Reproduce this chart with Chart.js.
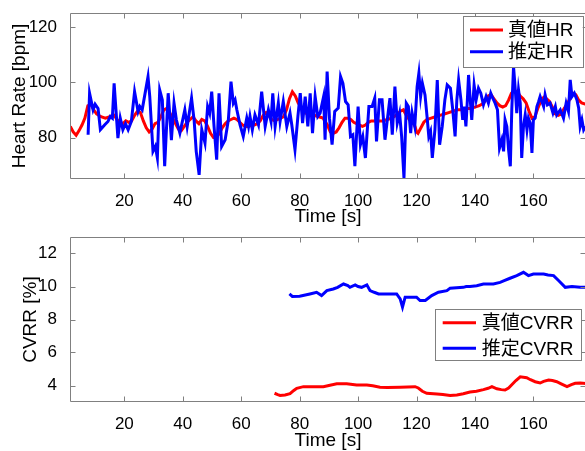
<!DOCTYPE html>
<html><head><meta charset="utf-8">
<script src="https://cdn.jsdelivr.net/npm/chart.js@4"></script>
<style>
html,body{margin:0;padding:0;background:#fff;overflow:hidden;width:585px;height:451px;position:relative;}
#c1{position:absolute;left:0;top:0;}
#c2{position:absolute;left:0;top:225px;}
</style></head><body>
<canvas id="c1" width="600" height="240"></canvas>
<canvas id="c2" width="600" height="240"></canvas>
<script>
// ---------- data ----------
const hrTicksX = [20,40,60,80,100,120,140,160];
const hrTicksY = [80,100,120];
const cvTicksY = [4,6,8,10,12];

const hrTrueT = [1.5,2.5,3.5,4.5,5.5,6.5,7.5,8.5,9.5,10.5,12,13.5,15,16.5,17.5,18.5,19.5,20.5,21.5,22.5,23.5,24.5,25.5,26.5,27.5,28.5,29.5,30.5,31.5,32.5,33.5,34.5,35.5,36.5,37.5,38.5,39.5,40.5,41.5,42.5,43.5,44.5,45.5,46.5,47.5,48.5,49.5,50.5,51.5,52.5,53.5,54.5,55.5,56.5,57.5,58.5,59.5,60.5,61.5,62.5,63.5,64.5,65.5,66.5,67.5,68.5,69.5,70.5,71.5,72.5,73.5,74.5,75.5,76.5,77.5,78.5,79.5,80.5,81.5,82.5,83.5,85,86.5,88,89.5,90.5,91.5,92.5,93.5,94.5,95.5,96.5,97.5,98.5,99.5,100.5,101.5,102.5,103.5,104.5,105.5,107,108.5,110,111.5,113,114.5,115.5,116.5,117.5,118.5,119.5,120,120.5,121.5,122.5,123.5,125,126.5,128,129.5,131,132.5,134,135.5,137,138.5,140,141.5,143,144.5,145.5,146.5,147.5,148.5,149.5,150.5,151.5,152.5,153.5,154.5,155.5,156.5,157.5,158.5,159.5,160.5,161.5,162.5,163.5,164.5,165.5,166.5,167.5,168.5,169.5,170.5,171.5,172.5,173.5,174.5,175.5,176.5,178];
const hrTrueV = [84,82,80.8,82.5,84.5,87,91.5,92,90,88.5,87.5,87,87.5,88,86.5,85.5,85,86,85.5,86,88,89.5,89,86,83.5,82,83,85,85.5,87.5,90,90.5,89,87,85,83,82.5,84,85.5,86.5,87.5,86,85,86.5,86,84,81.5,80,80,81.5,83.5,85,86,86.5,87,86.5,85.5,84.5,84,84,84.5,84.5,85,86,88,89,88,86.5,86,86.5,87,87.5,90,94,96.5,95,92.5,91,89.5,88.5,88,88,87.5,87,84.5,82,81.5,82,83.5,85.5,87,87,86.5,85.5,85,84.5,84,84.5,85.5,86,86,86,86,86.5,87,88,89.5,90,88,86.5,86,84,82,81.5,83.5,85.5,86.5,87,87.5,88,88.5,89,89.5,90,90,90.5,90.5,91,91.5,92.5,95,95.5,94,92.5,91.5,91,91.5,93.5,96,97,96.5,95,94,92.5,89.5,87,87.5,90.5,93,94.5,94,93,91,88.5,88,88.5,90.5,92,94,96,95.5,93.5,92.5,92];

const hrEstT = [7.6,8.1,9.3,10,11,11.8,13.3,14.4,15.2,15.9,16.5,17.8,18.6,19.5,20.4,21.3,22.4,23.5,24.7,25.3,26.1,28.1,28.7,29.8,30.6,31.3,32.1,33,33.8,35,35.5,36.1,37,37.8,39,39.5,40.7,41.5,43,43.9,44.6,45.6,46.5,47.6,48.5,49.2,49.9,50.7,51.6,52.4,53.3,54.5,55.6,56.5,57.3,57.9,58.5,59.6,60.7,61.9,62.5,63,63.8,64.7,65.9,67,68.2,69.3,70.2,70.8,71.6,72.7,73.3,74.4,75.6,76.7,77.3,78.4,79.4,80.2,81,81.9,82.8,83.6,84.4,85.3,86.2,87,88.2,88.7,89.4,90.2,91.1,92,93.2,94,94.8,95.7,96.6,97.4,98.2,98.9,100,100.8,101.6,102.5,103.7,104.8,105.7,106.3,107.3,108.2,109.2,110,110.9,111.7,112.6,113.4,114.2,114.9,115.7,116.5,117.2,118,118.5,119.4,120.2,120.8,121.4,122,122.9,123.7,124.2,124.8,125.4,126.3,127.1,127.9,128.8,129.7,130.5,131.6,132.4,133.2,133.8,134.4,135.2,135.8,136.3,136.9,137.4,137.8,138.3,138.9,139.7,140.4,141.2,142,142.9,143.8,144.6,145.4,146.1,146.9,147.7,148.4,149.2,149.8,150.3,150.9,151.5,152.1,152.6,153.2,153.8,154.3,154.9,155.5,156,156.6,157.2,157.8,158.3,158.9,159.5,160,160.6,161.2,161.8,162.3,163.5,164,164.8,165.7,166.7,167.5,168,169.2,170.3,171.2,172,172.6,173.2,174,174.9,175.5,176,176.6,177.2,177.8];
const hrEstV = [81,96,90,92,90.5,82.8,84.6,85.8,87.6,87,99.6,79.8,87,82.8,85,82.8,85.8,96.6,89.4,91.2,90,102,94.8,75,76.8,72.6,97.2,93.6,69.6,96,88.8,79,92.4,86.4,81.6,84,90,84,94.2,86,75,66.5,82.8,78,91.2,88.8,96.6,84,72,96,76.8,79.2,86.4,100.2,92.4,93.6,90,84.6,80.4,87,84,87.6,82.8,88.2,84.6,96.6,84,90,85.8,96,84,92.4,85.8,93,84,88.8,84.6,75.6,87.6,96,85.2,94.8,84,96,81.6,94.8,87.6,88.8,94.8,79.2,103.8,87,77.4,89.4,90.6,102,99.6,93,91.8,80.4,81,69.6,91.2,77.4,80.4,72.6,91.2,91.2,94.2,78.6,93.6,93.6,79.2,86.4,94.2,81,98.4,85.2,88.8,80.4,65.4,92.4,91.2,81.6,88.8,84,98.4,103.2,94.8,99.6,95.4,86.4,80.4,82.2,72.6,82.8,100.8,77.4,84,93.6,99,97.8,90,80.4,93.6,100.8,93.6,86.4,91.2,84,93.6,102.6,94.8,86.4,99,93.6,97.8,96,91.8,94.8,92.4,96,94.2,92.4,90,76.2,79.2,75,86.4,84,75.6,69.6,90,105.6,97.2,88.8,97.2,92.4,72.6,84,88.2,82.8,87,85.2,74.4,86.4,87,91.2,93,94.8,91.2,95.4,91.8,92.4,88.8,91.2,88.2,90,87,92.4,89.4,100.8,94.8,96,93.6,90.6,84,86.4,82.8,84];

const cvTrueT = [71.4,72.5,73.3,75,76.7,78,79,81.3,85,88.1,90,92.7,96.1,99.5,103,105,107.5,110,114.4,119.5,120.6,122,123.5,127,129,131.5,133.8,136,138.3,140.5,142.9,144.5,145.8,147.5,149,150.3,151.5,152.6,154,155.5,157.7,159,160.6,162.3,163.5,165.2,166.5,168,169.5,171.5,173,174.3,176,178];
const cvTrueV = [3.53,3.45,3.4,3.42,3.5,3.7,3.83,3.93,3.93,3.93,4.0,4.1,4.1,4.03,4.03,3.98,3.9,3.88,3.9,3.93,3.85,3.65,3.53,3.49,3.45,3.39,3.43,3.5,3.6,3.65,3.75,3.83,3.93,3.8,3.75,3.73,3.85,4.05,4.3,4.53,4.47,4.35,4.23,4.15,4.25,4.33,4.3,4.23,4.1,3.93,4.05,4.13,4.15,4.12];

const cvEstT = [76.5,77.5,80,83.5,85.8,87.5,89.3,91.5,93,95,96.5,97.2,99,100,101.2,103,104.1,105.5,107,111,113.2,114.4,115.2,116.1,117.8,120,121.2,123,125.2,127.5,130.4,131.5,136,137,138.3,140.6,142.9,146.3,148.6,150,152,154.3,156.6,158.3,160,163.5,165,166.9,168.6,170.9,173.2,176,178];
const cvEstV = [9.55,9.4,9.41,9.55,9.65,9.45,9.75,9.85,9.95,10.15,10.05,9.95,10.1,10.0,9.95,10.1,9.75,9.65,9.55,9.55,9.55,9.25,8.75,9.35,9.35,9.35,9.15,9.15,9.45,9.65,9.75,9.9,9.95,10.0,10.0,10.05,10.15,10.15,10.25,10.35,10.5,10.66,10.86,10.66,10.76,10.76,10.7,10.66,10.36,9.95,10.0,9.95,9.95];

const labelsHR = ['真値HR','推定HR'];
const labelsCV = ['真値CVRR','推定CVRR'];

// ---------- helpers ----------
const FONT = '"Liberation Sans", Arial, "Noto Sans CJK JP", sans-serif';
const pts = (T, V) => T.map((t, i) => ({x: t, y: V[i]}));

const axesBox = {
  id: 'axesBox',
  afterDatasetsDraw(chart) {
    const {ctx, chartArea: a, scales: {x, y}} = chart;
    ctx.save();
    ctx.strokeStyle = '#808080';
    ctx.lineWidth = 1;
    const L = a.left + 0.5, R = a.right - 0.5, T = a.top + 0.5, B = a.bottom - 0.5;
    ctx.beginPath();
    ctx.rect(L, T, R - L, B - T);
    const tl = 5;
    x.ticks.forEach(tk => {
      const px = Math.round(x.getPixelForValue(tk.value)) + 0.5;
      ctx.moveTo(px, B); ctx.lineTo(px, B - tl);
      ctx.moveTo(px, T); ctx.lineTo(px, T + tl);
    });
    y.ticks.forEach(tk => {
      const py = Math.round(y.getPixelForValue(tk.value)) + 0.5;
      ctx.moveTo(L, py); ctx.lineTo(L + tl, py);
      ctx.moveTo(R, py); ctx.lineTo(R - tl, py);
    });
    ctx.stroke();
    ctx.restore();
  }
};

const legendBox = {
  id: 'legendBox',
  afterDraw(chart, args, o) {
    const {ctx, chartArea: a} = chart;
    const bx = a.right - o.right - o.w, by = a.top + o.top;
    ctx.save();
    ctx.fillStyle = '#fff';
    ctx.fillRect(bx, by, o.w, o.h);
    ctx.strokeStyle = '#808080';
    ctx.lineWidth = 1;
    ctx.strokeRect(Math.round(bx) + 0.5, Math.round(by) + 0.5, Math.round(o.w), Math.round(o.h));
    ctx.font = '19px ' + FONT;
    ctx.textBaseline = 'middle';
    ctx.textAlign = 'left';
    chart.data.datasets.forEach((ds, i) => {
      const ry = by + o.rows[i];
      ctx.strokeStyle = ds.borderColor;
      ctx.lineWidth = 3;
      ctx.beginPath();
      ctx.moveTo(bx + o.lx0, ry); ctx.lineTo(bx + o.lx1, ry);
      ctx.stroke();
      ctx.fillStyle = '#000';
      ctx.fillText(ds.label, bx + o.tx, ry + 1);
    });
    ctx.restore();
  }
};

function makeChart(id, datasets, yMin, yMax, yTicks, yTitle, opt) {
  return new Chart(document.getElementById(id), {
    type: 'line',
    data: {datasets},
    plugins: [axesBox, legendBox],
    options: {
      responsive: false,
      animation: false,
      events: [],
      layout: {padding: {left: 0, right: 14, top: opt.top, bottom: 0}},
      elements: {point: {radius: 0}, line: {tension: 0, borderWidth: 3}},
      plugins: {legend: {display: false}, tooltip: {enabled: false}, legendBox: opt.legend},
      scales: {
        x: {
          type: 'linear', min: 1.4, max: 178,
          afterBuildTicks: s => { s.ticks = hrTicksX.map(v => ({value: v})); },
          afterFit: s => { s.height = 240 - opt.bottom; s.paddingLeft = 0; s.paddingRight = 0; },
          grid: {display: false},
          border: {display: false},
          ticks: {padding: 4, color: '#000', font: {family: FONT, size: 17}, maxRotation: 0},
          title: {display: true, text: 'Time [s]', color: '#000', font: {family: FONT, size: 19, lineHeight: 1}, padding: {top: 0, bottom: opt.xtPad}}
        },
        y: {
          type: 'linear', min: yMin, max: yMax,
          afterBuildTicks: s => { s.ticks = yTicks.map(v => ({value: v})); },
          afterFit: s => { s.width = 70; s.paddingTop = 0; s.paddingBottom = 0; },
          grid: {display: false},
          border: {display: false},
          ticks: {padding: 5, color: '#000', font: {family: FONT, size: 17}},
          title: {display: true, text: yTitle, color: '#000', font: {family: FONT, size: 19, lineHeight: 1}, padding: {top: opt.ytPad, bottom: 0}}
        }
      }
    }
  });
}

// order: true series (red) drawn first, estimate (blue) drawn on top, as in the reference
makeChart('c1', [
  {label: labelsHR[0], data: pts(hrTrueT, hrTrueV), borderColor: '#ff0000', borderWidth: 3, clip: 0, order: 1},
  {label: labelsHR[1], data: pts(hrEstT, hrEstV), borderColor: '#0000ff', borderWidth: 3, clip: 0, order: 0}
], 65, 125, hrTicksY, 'Heart Rate [bpm]', {
  top: 13, bottom: 179, xtPad: 13.5, ytPad: 10.5,
  legend: {w: 120, h: 51, right: 3.3, top: 3, lx0: 7.3, lx1: 40.3, tx: 45.3, rows: [14, 35.7]}
});

makeChart('c2', [
  {label: labelsCV[0], data: pts(cvTrueT, cvTrueV), borderColor: '#ff0000', borderWidth: 3, clip: 0, order: 1},
  {label: labelsCV[1], data: pts(cvEstT, cvEstV), borderColor: '#0000ff', borderWidth: 3, clip: 0, order: 0}
], 3, 13, cvTicksY, 'CVRR [%]', {
  top: 12, bottom: 177, xtPad: 14.5, ytPad: 21.5,
  legend: {w: 146, h: 51, right: 5, top: 72.3, lx0: 7.7, lx1: 41, tx: 46.7, rows: [13.4, 39]}
});
</script>
</body></html>
